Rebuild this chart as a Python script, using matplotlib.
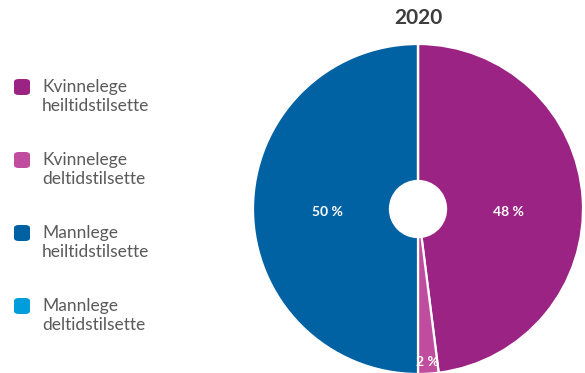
import numpy as np
import matplotlib
matplotlib.use('Agg')
import matplotlib.pyplot as plt
from matplotlib.patches import FancyBboxPatch

# --- Data ---
year = '2020'
categories = ['Kvinnelege\nheiltidstilsette', 'Kvinnelege\ndeltidstilsette',
              'Mannlege\nheiltidstilsette', 'Mannlege\ndeltidstilsette']
shares = [48, 2, 50, 0]
colors = ['#9b2383', '#c04c9f', '#0062a3', '#009ddc']

plt.rcParams['font.family'] = ['Lato', 'DejaVu Sans']

fig = plt.figure(figsize=(5.85, 3.73), dpi=100)
W, H = 585, 373

# pie axes: centre ~(418, 209) px, radius ~165 px
cx, cy, R = 418, 209, 165
ax = fig.add_axes([(cx - R) / W, (H - cy - R) / H, 2 * R / W, 2 * R / H])
wedges, _ = ax.pie(shares, colors=colors, startangle=90, counterclock=False,
                   radius=1.0,
                   wedgeprops=dict(width=0.83, edgecolor='white', linewidth=1.6))
ax.set_xlim(-1, 1)
ax.set_ylim(-1, 1)
ax.set_aspect('equal')
ax.axis('off')

# percentage labels inside the slices
for w, v in zip(wedges, shares):
    if v <= 0:
        continue
    mid = np.deg2rad((w.theta1 + w.theta2) / 2)
    if v >= 10:
        x, y = 0.55 * np.sign(np.cos(mid)), -0.02
    else:
        x, y = 0.93 * np.cos(mid), 0.93 * np.sin(mid)
    ax.text(x, y, f'{v} %', color='white',
            fontsize=10, fontweight='bold', ha='center', va='center')

fig.text(cx / W, 1 - 18 / H, year, fontsize=15, fontweight='bold',
         color='#3d3d3d', ha='center', va='center')

# legend on the left
y0, step = 87, 73
for i, (lab, c) in enumerate(zip(categories, colors)):
    yc = y0 + i * step
    box = FancyBboxPatch((14 / W, 1 - (yc + 8) / H), 16 / W, 16 / H,
                         boxstyle='round,pad=0,rounding_size=0.008',
                         transform=fig.transFigure, facecolor=c, edgecolor='none')
    fig.patches.append(box)
    fig.text(42 / W, 1 - (yc - 8) / H, lab, fontsize=12.5, color='#5a5a5a',
             ha='left', va='top', linespacing=1.22)

fig.savefig('out.png', dpi=100)
